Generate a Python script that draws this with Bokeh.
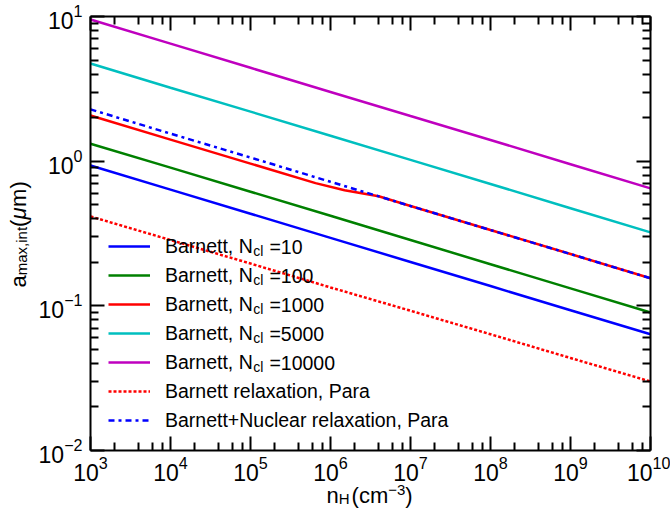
import numpy as np
from bokeh.plotting import figure
from bokeh.models import (Range1d, FixedTicker, LogAxis, LogTickFormatter,
                          Legend, LegendItem, Label)
from bokeh.embed import file_html
from bokeh.resources import INLINE

# ---------------- data ----------------
n_H = [1e3, 1e4, 1e5, 1e6, 1e7, 1e8, 1e9, 1e10]
a_ncl10 = [0.933, 0.636, 0.433, 0.295, 0.201, 0.137, 0.0933, 0.0636]
a_ncl100 = [1.32, 0.902, 0.615, 0.419, 0.285, 0.194, 0.132, 0.090]
n_H_ncl1000 = [1e3, 1e4, 1e5, 6.5e5, 1.5e6, 4e6, 1e7, 1e8, 1e9, 1e10]
a_ncl1000 = [2.07, 1.41, 0.962, 0.705, 0.630, 0.572, 0.490, 0.334, 0.228, 0.155]
a_ncl5000 = [4.73, 3.22, 2.20, 1.50, 1.02, 0.695, 0.473, 0.322]
a_ncl10000 = [9.53, 6.49, 4.42, 3.01, 2.05, 1.40, 0.953, 0.649]
a_barnett_para = [0.415, 0.285, 0.196, 0.134, 0.0925, 0.0636, 0.0436, 0.030]
a_barnett_nuclear_para = [2.28, 1.55, 1.06, 0.720, 0.490, 0.334, 0.228, 0.155]

ncl_labels = ["10", "100", "1000", "5000", "10000"]
other_labels = ["Barnett relaxation, Para", "Barnett+Nuclear relaxation, Para"]

x_lim = (1e3, 1e10)
y_lim = (1e-2, 1e1)
x_major = [1e3, 1e4, 1e5, 1e6, 1e7, 1e8, 1e9, 1e10]
x_minor = [k * 10.0 ** d for d in range(3, 10) for k in (2, 4, 6, 8)]
y_major = [1e-2, 1e-1, 1e0, 1e1]
y_minor = [k * 10.0 ** d for d in range(-2, 1) for k in range(2, 10)]

# ---------------- layout ----------------
FONT = "Liberation Sans"
W, H = 670, 510
L, R, T, B = 90, 650, 16, 450          # plot box edges in page pixels

def px2x(px):
    return 10 ** (3 + (px - L) * 7.0 / (R - L))

def px2y(py):
    return 10 ** (1 - (py - T) * 3.0 / (B - T))

CW = {'B': 667, 'a': 556, 'r': 333, 'n': 556, 'e': 556, 't': 278, ',': 278,
      ' ': 278, 'N': 722, 'c': 500, 'l': 222, '=': 584, 'm': 833, 'x': 500,
      'i': 222, 'H': 722, '(': 333, ')': 333, 'μ': 576, '−': 584}
for d in "0123456789":
    CW[d] = 556

def tw(s, size):
    return sum(CW.get(c, 556) for c in s) / 1000.0 * size

# the frame spans the whole canvas; the visible box is drawn by fixed axes
p = figure(width=W, height=H, x_axis_type="log", y_axis_type="log",
           x_axis_location=None, y_axis_location=None,
           x_range=Range1d(px2x(0), px2x(W)), y_range=Range1d(px2y(H), px2y(0)),
           output_backend="svg", toolbar_location=None,
           min_border=0, min_border_left=0, min_border_right=0,
           min_border_top=0, min_border_bottom=0)
p.grid.visible = False
p.outline_line_color = None
p.background_fill_color = "white"
p.border_fill_color = "white"

def make_axis(major, minor, loc, bounds, show):
    ax = LogAxis(formatter=LogTickFormatter(), fixed_location=loc, bounds=bounds)
    ax.ticker = FixedTicker(ticks=major, minor_ticks=minor)
    ax.axis_line_width = 2
    ax.axis_line_color = "black"
    ax.major_tick_in = 14
    ax.major_tick_out = 0
    ax.minor_tick_in = 8
    ax.minor_tick_out = 0
    ax.major_tick_line_width = 2
    ax.minor_tick_line_width = 2
    ax.major_tick_line_color = "black"
    ax.minor_tick_line_color = "black"
    ax.major_label_text_font = FONT
    if show:
        ax.major_label_text_font_size = "23px"
        ax.major_label_text_color = "black"
    else:
        ax.major_label_text_font_size = "1px"
        ax.major_label_text_color = None
        ax.major_label_standoff = 0
    return ax

bottom = make_axis(x_major, x_minor, y_lim[0], x_lim, True)
bottom.major_label_standoff = 5
left = make_axis(y_major, y_minor, x_lim[0], y_lim, True)
left.major_label_standoff = 8
top = make_axis(x_major, x_minor, y_lim[1], x_lim, False)
right = make_axis(y_major, y_minor, x_lim[1], y_lim, False)
p.add_layout(bottom, "below")
p.add_layout(left, "left")
p.add_layout(top, "above")
p.add_layout(right, "right")

LW = 2.5
r1 = p.line(n_H, a_ncl10, line_color="#0000ff", line_width=LW)
r2 = p.line(n_H, a_ncl100, line_color="#008000", line_width=LW)
r3 = p.line(n_H_ncl1000, a_ncl1000, line_color="#ff0000", line_width=LW)
r4 = p.line(n_H, a_ncl5000, line_color="#00bfbf", line_width=LW)
r5 = p.line(n_H, a_ncl10000, line_color="#bf00bf", line_width=LW)
r6 = p.line(n_H, a_barnett_para, line_color="#ff0000", line_width=LW,
            line_dash="3 2")
r7 = p.line(n_H, a_barnett_nuclear_para, line_color="#0000ff", line_width=LW,
            line_dash="6 4 3 4")

# ---------------- legend ----------------
LEG_X, LEG_BOTTOM = 98, 443
PADX, GW, ROWH, SPACING, STANDOFF = 10, 42, 26, 3, 15
LFS = 19.5
SFS = 14
items = [LegendItem(label="Barnett, N", renderers=[r]) for r in (r1, r2, r3, r4, r5)]
items += [LegendItem(label=other_labels[0], renderers=[r6]),
          LegendItem(label=other_labels[1], renderers=[r7])]
legend = Legend(items=items, location=(LEG_X, H - LEG_BOTTOM), margin=0,
                padding=PADX, glyph_width=GW, glyph_height=ROWH,
                label_height=ROWH, spacing=SPACING, label_standoff=STANDOFF,
                label_text_font=FONT, label_text_font_size=f"{LFS}px",
                label_text_color="black",
                background_fill_alpha=0, border_line_alpha=0)
p.add_layout(legend)

text_x0 = LEG_X + PADX + GW + STANDOFF
n_rows = len(items)
last_center = LEG_BOTTOM - PADX - ROWH / 2.0
for i, lab in enumerate(ncl_labels):
    cy = last_center - (n_rows - 1 - i) * (ROWH + SPACING)
    xs = text_x0 + tw("Barnett, N", LFS)
    p.add_layout(Label(x=px2x(xs), y=px2y(cy + 4), text="cl",
                       text_font=FONT, text_font_size=f"{SFS}px",
                       text_baseline="middle", text_align="left",
                       text_color="black"))
    xs2 = xs + tw("cl", SFS) + 6
    p.add_layout(Label(x=px2x(xs2), y=px2y(cy), text="=" + lab,
                       text_font=FONT, text_font_size=f"{LFS}px",
                       text_baseline="middle", text_align="left",
                       text_color="black"))

# ---------------- axis titles ----------------
BIG, SMALL = 22, 15
# x title: n_H(cm^-3)
xb = 495
x0 = 326
pieces = [("n", BIG, 0, 0), ("H", SMALL, 3, 2), ("(cm", BIG, 0, 0),
          ("−3", SMALL, -6, 0), (")", BIG, 0, 0)]
cx = x0
for txt, fs, dy, gap in pieces:
    p.add_layout(Label(x=px2x(cx), y=px2y(xb + dy), text=txt, text_font=FONT,
                       text_font_size=f"{fs}px", text_baseline="alphabetic",
                       text_align="left", text_color="black"))
    cx += tw(txt, fs) + gap

# y title: a_max,int(μm), rotated
yb = 18
y0 = 287
pieces = [("a", BIG, 0, "normal"), ("max,int", SMALL, 3, "normal"),
          ("(", BIG, 0, "normal"), ("μ", BIG, 0, "italic"), ("m)", BIG, 0, "normal")]
cy = y0
for txt, fs, dx, st in pieces:
    p.add_layout(Label(x=px2x(yb + dx), y=px2y(cy), text=txt, text_font=FONT,
                       text_font_size=f"{fs}px", text_font_style=st,
                       text_baseline="alphabetic", text_align="left",
                       angle=np.pi / 2, angle_units="rad", text_color="black"))
    cy -= tw(txt, fs)

open("out.html", "w").write(file_html(p, INLINE))
